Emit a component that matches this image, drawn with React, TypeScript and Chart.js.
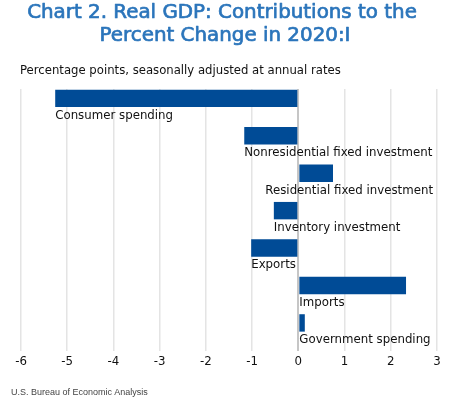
import React, { useEffect, useRef } from "react";
import { Chart, registerables } from "chart.js";

Chart.register(...registerables);

const categories = [
  "Consumer spending",
  "Nonresidential fixed investment",
  "Residential fixed investment",
  "Inventory investment",
  "Exports",
  "Imports",
  "Government spending",
];
const contributions = [-5.26, -1.17, 0.75, -0.53, -1.02, 2.33, 0.14];
const tickValues = [-6, -5, -4, -3, -2, -1, 0, 1, 2, 3];
const titleLines = ["Chart 2. Real GDP: Contributions to the", "Percent Change in 2020:I"];
const subtitleText = "Percentage points, seasonally adjusted at annual rates";
const sourceText = "U.S. Bureau of Economic Analysis";

const FAMILY = '"DejaVu Sans", sans-serif';
const TITLE_FAMILY = '"DejaVu Sans", sans-serif';
const SOURCE_FAMILY = '"Liberation Sans", Arial, sans-serif';

function fitSize(text: string, weight: string, family: string, target: number) {
  const c = document.createElement("canvas").getContext("2d") as CanvasRenderingContext2D;
  c.font = `${weight} 100px ${family}`;
  const w = c.measureText(text).width;
  return (100 * target) / w;
}

export default function App() {
  const canvasRef = useRef<HTMLCanvasElement | null>(null);

  useEffect(() => {
    document.body.style.margin = "0";
    const canvas = canvasRef.current;
    if (!canvas) return;

    const labelSize = fitSize(categories[0], "400", FAMILY, 118);
    const titleSize = fitSize(titleLines[0], "400", TITLE_FAMILY, 390);
    const subSize = fitSize(subtitleText, "400", FAMILY, 321);
    const srcSize = fitSize(sourceText, "400", SOURCE_FAMILY, 137);

    const textPlugin = {
      id: "textPlugin",
      afterDraw(chart: any) {
        const ctx: CanvasRenderingContext2D = chart.ctx;
        ctx.save();
        ctx.textBaseline = "alphabetic";
        // Title (medium weight: fill plus a thin stroke)
        ctx.font = `400 ${titleSize}px ${TITLE_FAMILY}`;
        ctx.fillStyle = "#2b75bb";
        ctx.strokeStyle = "#2b75bb";
        ctx.lineWidth = 0.7;
        ctx.lineJoin = "round";
        ctx.textAlign = "center";
        const tx = [222, 225];
        const ty = [17.5, 41.3];
        titleLines.forEach((t, i) => {
          ctx.fillText(t, tx[i], ty[i]);
          ctx.strokeText(t, tx[i], ty[i]);
        });

        // Subtitle
        ctx.font = `400 ${subSize}px ${FAMILY}`;
        ctx.fillStyle = "#111";
        ctx.textAlign = "left";
        ctx.fillText(subtitleText, 20, 74);

        // Source
        ctx.font = `400 ${srcSize}px ${SOURCE_FAMILY}`;
        ctx.fillStyle = "#444";
        ctx.fillText(sourceText, 11, 395);

        // Bar labels
        const meta = chart.getDatasetMeta(0);
        const rightLimit = 433;
        ctx.font = `400 ${labelSize}px ${FAMILY}`;
        ctx.fillStyle = "#111";
        ctx.textAlign = "left";
        meta.data.forEach((bar: any, i: number) => {
          const { x, y, base, height } = bar.getProps(["x", "y", "base", "height"], true);
          const text = categories[i];
          const w = ctx.measureText(text).width;
          let left = Math.min(x, base);
          if (left + w > rightLimit) left = rightLimit - w;
          ctx.fillText(text, left, y + height / 2 + 11.7);
        });
        ctx.restore();
      },
    };

    const chart = new Chart(canvas, {
      type: "bar",
      data: {
        labels: categories,
        datasets: [
          {
            data: contributions,
            backgroundColor: "#004b96",
            borderWidth: 0,
            barPercentage: 0.93,
            categoryPercentage: 1,
          },
          {
            data: categories.map(() => null),
            backgroundColor: "rgba(0,0,0,0)",
            barPercentage: 0.93,
            categoryPercentage: 1,
          },
        ],
      },
      options: {
        indexAxis: "y",
        animation: false,
        responsive: false,
        maintainAspectRatio: false,
        layout: { padding: { left: 21, right: 13, top: 89, bottom: 0 } },
        plugins: {
          legend: { display: false },
          tooltip: { enabled: false },
          title: { display: false },
        },
        scales: {
          x: {
            type: "linear",
            min: -6,
            max: 3,
            afterBuildTicks: (scale: any) => {
              scale.ticks = tickValues.map((v) => ({ value: v }));
            },
            afterFit: (scale: any) => {
              scale.height = 49;
            },
            border: { display: false },
            grid: {
              drawTicks: false,
              color: (c: any) => (c.tick && c.tick.value === 0 ? "#c6c6c6" : "#e4e4e4"),
              lineWidth: (c: any) => (c.tick && c.tick.value === 0 ? 2 : 1.5),
            },
            ticks: {
              padding: 4,
              color: "#111",
              font: { family: FAMILY, size: labelSize },
              callback: (v: any) => String(v),
            },
          },
          y: {
            display: false,
            grid: { display: false },
          },
        },
      },
      plugins: [textPlugin],
    } as any);
    return () => chart.destroy();
  }, []);

  return (
    <div style={{ position: "fixed", left: 0, top: 0, width: 450, height: 400, background: "#fff" }}>
      <canvas ref={canvasRef} width={450} height={400} style={{ display: "block", width: 450, height: 400 }} />
    </div>
  );
}
